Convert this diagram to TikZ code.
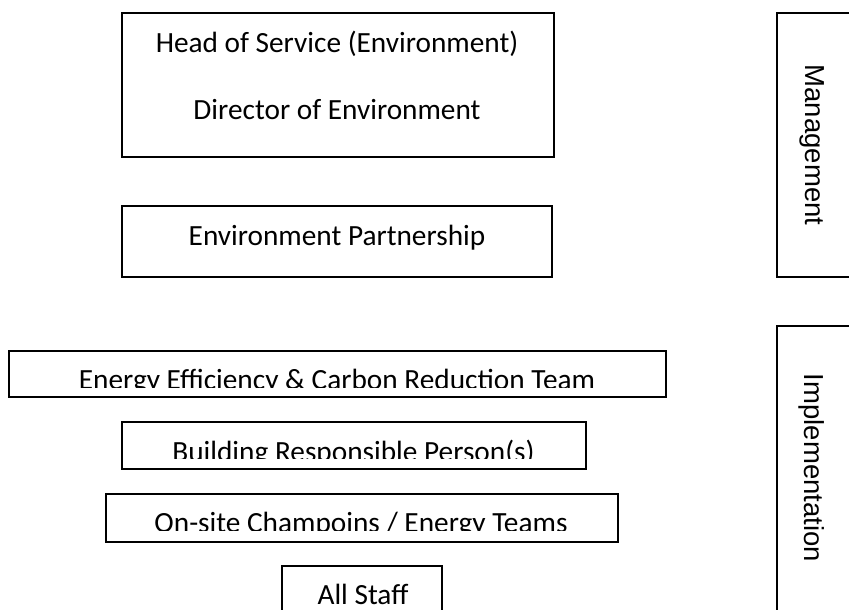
\documentclass[tikz,border=0pt]{standalone}
\usepackage{fontspec}
\setmainfont{Carlito}
\newfontfamily\sidefont{Liberation Sans}
\usetikzlibrary{positioning}
\newcommand{\boxfont}{\fontsize{29.3}{35}\selectfont}
\newcommand{\sidebox}{\sidefont\fontsize{27.5}{33}\selectfont}

\begin{document}
\begin{tikzpicture}[x=1pt,y=-1pt,
  box/.style={draw,line width=1.6pt,inner sep=0pt},
  txt/.style={anchor=base,inner sep=0pt,font=\boxfont},
  side/.style={rotate=-90,inner sep=0pt,font=\sidebox}]
  \useasboundingbox (0,0) rectangle (849,610);
  \clip (0,0) rectangle (849,610);

  % management level
  \node (hos) [box,minimum width=432pt,minimum height=144pt] at (338,85) {};
  \node (hostxt) [txt] at (337,52.5) {Head of Service (Environment)};
  \node (dirtxt) [txt] at (337,119.5) {Director of Environment};

  \node (envpart) [box,minimum width=430pt,minimum height=71pt] at (337,241.5) {};
  \node (envparttxt) [txt] at (337,245) {Environment Partnership};

  \node (mgmt) [box,minimum width=74pt,minimum height=264pt] at (814,145) {};
  \node (mgmttxt) [side] at (812,145) {Management};

  % implementation level
  \node (eecr) [box,minimum width=657pt,minimum height=46pt] at (337.5,374) {};
  \begin{scope}
    \clip (eecr.north west) rectangle (eecr.east |- 0,387.5);
    \node (eecrtxt) [txt] at (337,389) {Energy Efficiency \& Carbon Reduction Team};
  \end{scope}

  \node (brp) [box,minimum width=464pt,minimum height=47pt] at (354,445.5) {};
  \begin{scope}
    \clip (brp.north west) rectangle (brp.east |- 0,458.5);
    \node (brptxt) [txt] at (353.5,461.5) {Building Responsible Person(s)};
  \end{scope}

  \node (onsite) [box,minimum width=512pt,minimum height=48pt] at (362,518) {};
  \begin{scope}
    \clip (onsite.north west) rectangle (onsite.east |- 0,530);
    \node (onsitetxt) [txt] at (361,532.5) {On-site Champoins / Energy Teams};
  \end{scope}

  \node (allstaff) [box,minimum width=160pt,minimum height=50pt] at (362,591) {};
  \node (allstafftxt) [txt] at (363,604.5) {All Staff};

  \node (impl) [box,minimum width=74pt,minimum height=286pt] at (814,469) {};
  \node (impltxt) [side] at (812,468) {Implementation};
\end{tikzpicture}
\end{document}
